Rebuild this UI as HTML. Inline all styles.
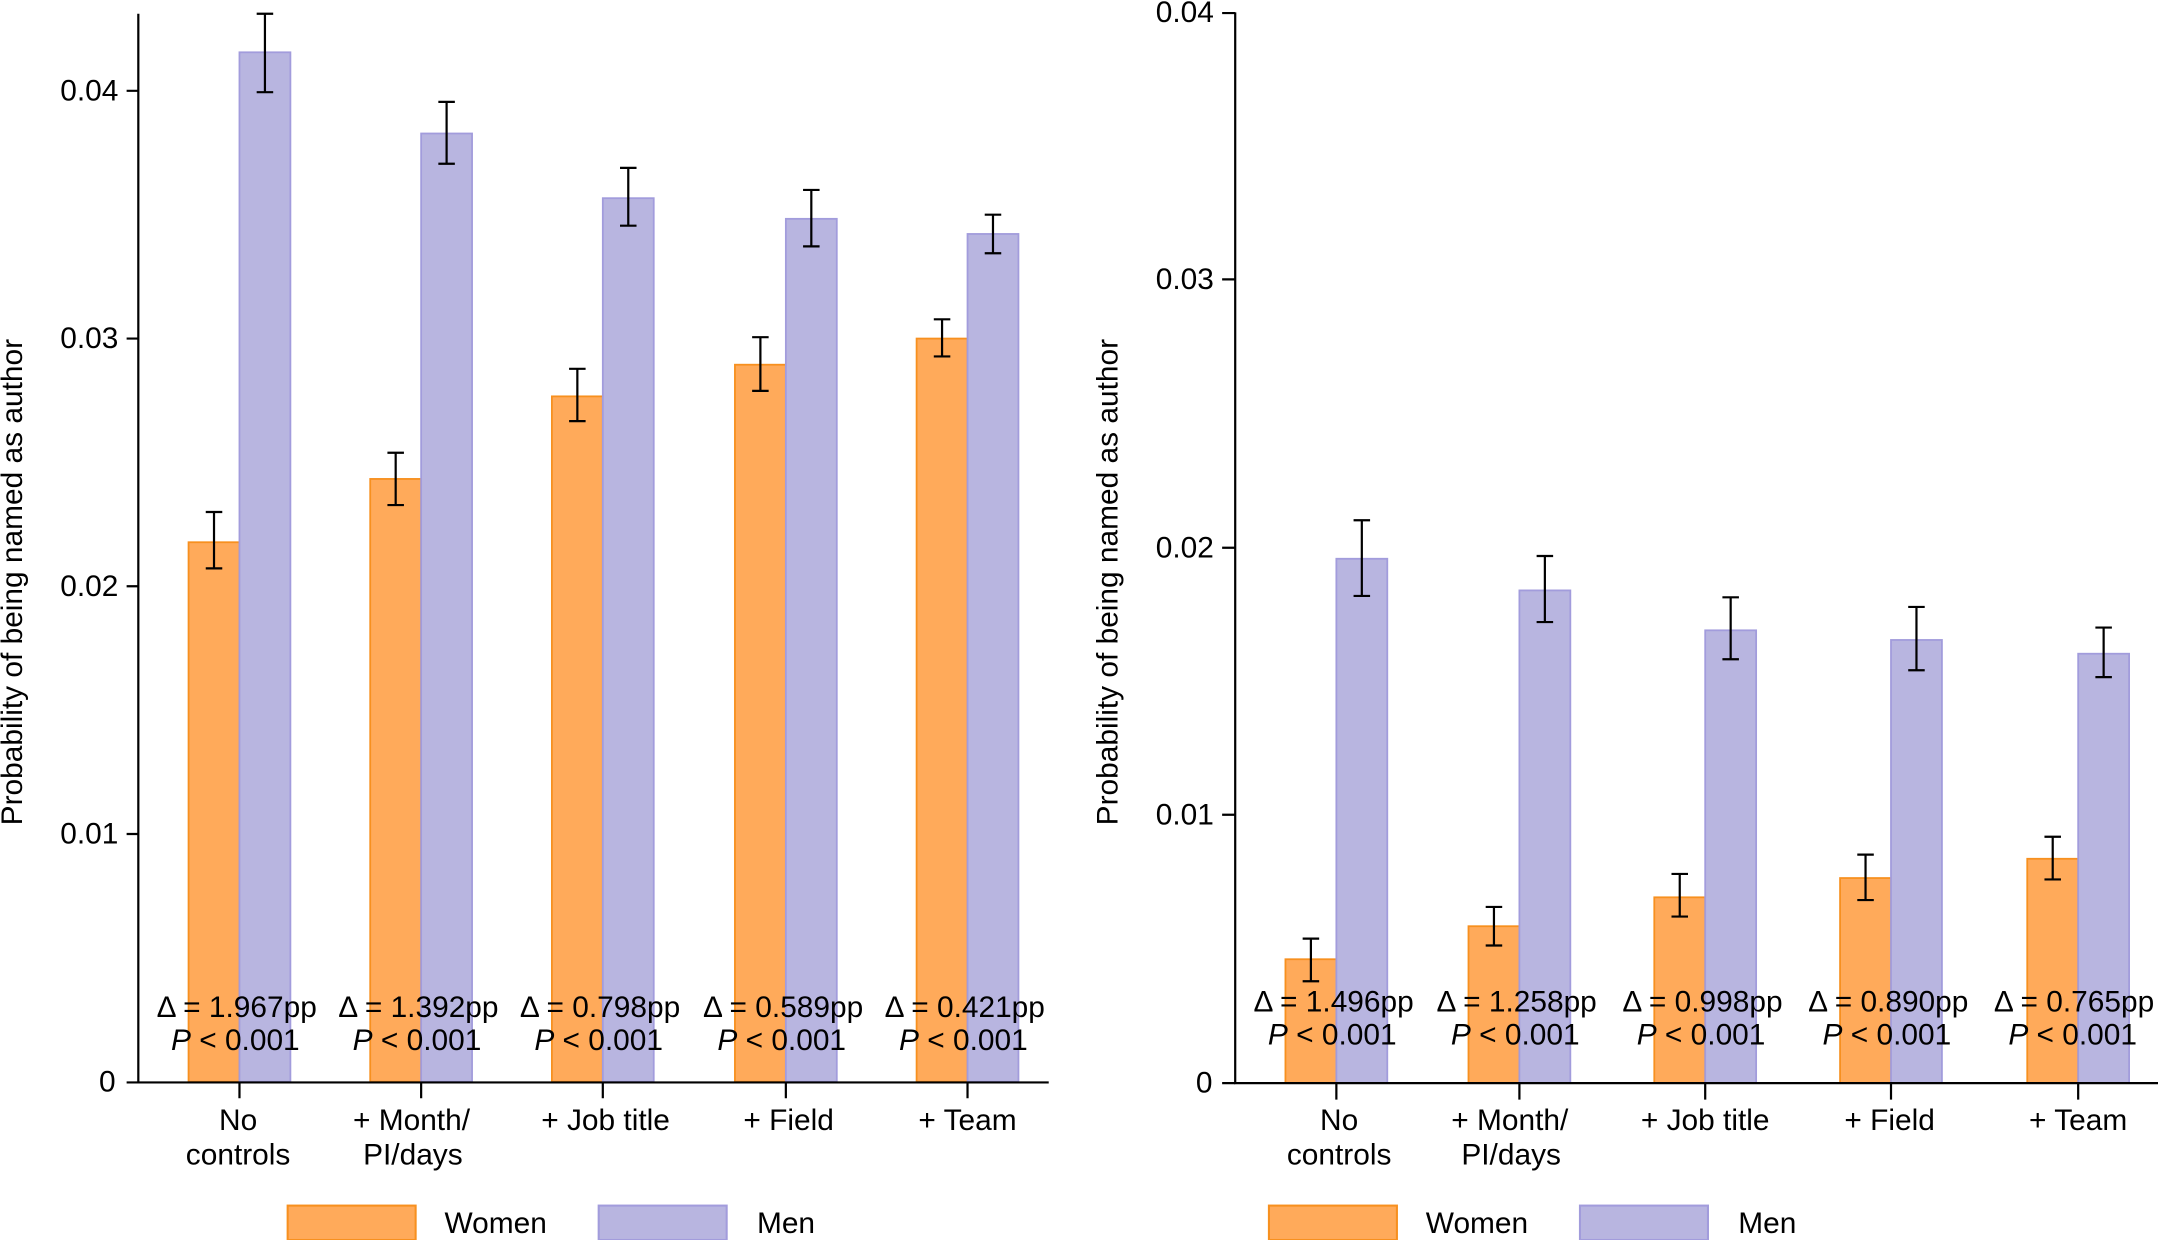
<!DOCTYPE html>
<html><head><meta charset="utf-8"><style>
html,body{margin:0;padding:0;background:#fff;}
svg{display:block;}
text{font-family:"Liberation Sans",Arial,sans-serif;fill:#000;}
</style></head><body>
<svg width="2158" height="1240" viewBox="0 0 1568 901" preserveAspectRatio="none" xmlns="http://www.w3.org/2000/svg">
<g font-size="21.7">
<!-- LEFT CHART -->
<g stroke-width="1.3">
<rect x="137" y="394" width="37" height="392" fill="#FFAA5A" stroke="#F7901F"/>
<rect x="174" y="38" width="37" height="748" fill="#B8B5E0" stroke="#A29CDC"/>
<rect x="269" y="348" width="37" height="438" fill="#FFAA5A" stroke="#F7901F"/>
<rect x="306" y="97" width="37" height="689" fill="#B8B5E0" stroke="#A29CDC"/>
<rect x="401" y="288" width="37" height="498" fill="#FFAA5A" stroke="#F7901F"/>
<rect x="438" y="144" width="37" height="642" fill="#B8B5E0" stroke="#A29CDC"/>
<rect x="534" y="265" width="37" height="521" fill="#FFAA5A" stroke="#F7901F"/>
<rect x="571" y="159" width="37" height="627" fill="#B8B5E0" stroke="#A29CDC"/>
<rect x="666" y="246" width="37" height="540" fill="#FFAA5A" stroke="#F7901F"/>
<rect x="703" y="170" width="37" height="616" fill="#B8B5E0" stroke="#A29CDC"/>
</g>
<g stroke="#000" stroke-width="1.6" fill="none">
<path d="M155.5 372V413M149.5 372H161.5M149.5 413H161.5"/>
<path d="M192.5 10V67M186.5 10H198.5M186.5 67H198.5"/>
<path d="M287.5 329V367M281.5 329H293.5M281.5 367H293.5"/>
<path d="M324.5 74V119M318.5 74H330.5M318.5 119H330.5"/>
<path d="M419.5 268V306M413.5 268H425.5M413.5 306H425.5"/>
<path d="M456.5 122V164M450.5 122H462.5M450.5 164H462.5"/>
<path d="M552.5 245V284M546.5 245H558.5M546.5 284H558.5"/>
<path d="M589.5 138V179M583.5 138H595.5M583.5 179H595.5"/>
<path d="M684.5 232V259M678.5 232H690.5M678.5 259H690.5"/>
<path d="M721.5 156V184M715.5 156H727.5M715.5 184H727.5"/>
<path d="M100.5 10V786.5H762"/>
<path d="M92 66H100.5M92 246H100.5M92 426H100.5M92 606H100.5M92 786.5H100.5"/>
<path d="M174 786V798M306 786V798M438 786V798M571 786V798M703 786V798"/>
</g>
<g text-anchor="end">
<text x="86" y="73">0.04</text><text x="86" y="253">0.03</text><text x="86" y="433">0.02</text><text x="86" y="613">0.01</text><text x="84" y="793">0</text>
</g>
<text transform="translate(16,423) rotate(-90)" text-anchor="middle">Probability of being named as author</text>
<g text-anchor="middle">
<text x="172" y="739">Δ = 1.967pp</text><text x="171" y="763"><tspan font-style="italic">P</tspan> &lt; 0.001</text>
<text x="304" y="739">Δ = 1.392pp</text><text x="303" y="763"><tspan font-style="italic">P</tspan> &lt; 0.001</text>
<text x="436" y="739">Δ = 0.798pp</text><text x="435" y="763"><tspan font-style="italic">P</tspan> &lt; 0.001</text>
<text x="569" y="739">Δ = 0.589pp</text><text x="568" y="763"><tspan font-style="italic">P</tspan> &lt; 0.001</text>
<text x="701" y="739">Δ = 0.421pp</text><text x="700" y="763"><tspan font-style="italic">P</tspan> &lt; 0.001</text>
<text x="173" y="821">No</text><text x="173" y="846">controls</text>
<text x="299" y="821">+ Month/</text><text x="300" y="846">PI/days</text>
<text x="440" y="821">+ Job title</text>
<text x="573" y="821">+ Field</text>
<text x="703" y="821">+ Team</text>
</g>
<rect x="209" y="876" width="93" height="25" fill="#FFAA5A" stroke="#F7901F" stroke-width="1.5"/>
<text x="323" y="896">Women</text>
<rect x="435" y="876" width="93" height="25" fill="#B8B5E0" stroke="#A29CDC" stroke-width="1.5"/>
<text x="550" y="896">Men</text>

<!-- RIGHT CHART -->
<g stroke-width="1.3">
<rect x="934" y="697" width="37" height="90" fill="#FFAA5A" stroke="#F7901F"/>
<rect x="971" y="406" width="37" height="381" fill="#B8B5E0" stroke="#A29CDC"/>
<rect x="1067" y="673" width="37" height="114" fill="#FFAA5A" stroke="#F7901F"/>
<rect x="1104" y="429" width="37" height="358" fill="#B8B5E0" stroke="#A29CDC"/>
<rect x="1202" y="652" width="37" height="135" fill="#FFAA5A" stroke="#F7901F"/>
<rect x="1239" y="458" width="37" height="329" fill="#B8B5E0" stroke="#A29CDC"/>
<rect x="1337" y="638" width="37" height="149" fill="#FFAA5A" stroke="#F7901F"/>
<rect x="1374" y="465" width="37" height="322" fill="#B8B5E0" stroke="#A29CDC"/>
<rect x="1473" y="624" width="37" height="163" fill="#FFAA5A" stroke="#F7901F"/>
<rect x="1510" y="475" width="37" height="312" fill="#B8B5E0" stroke="#A29CDC"/>
</g>
<g stroke="#000" stroke-width="1.6" fill="none">
<path d="M952.5 682V713M946.5 682H958.5M946.5 713H958.5"/>
<path d="M989.5 378V433M983.5 378H995.5M983.5 433H995.5"/>
<path d="M1085.5 659V687M1079.5 659H1091.5M1079.5 687H1091.5"/>
<path d="M1122.5 404V452M1116.5 404H1128.5M1116.5 452H1128.5"/>
<path d="M1220.5 635V666M1214.5 635H1226.5M1214.5 666H1226.5"/>
<path d="M1257.5 434V479M1251.5 434H1263.5M1251.5 479H1263.5"/>
<path d="M1355.5 621V654M1349.5 621H1361.5M1349.5 654H1361.5"/>
<path d="M1392.5 441V487M1386.5 441H1398.5M1386.5 487H1398.5"/>
<path d="M1491.5 608V639M1485.5 608H1497.5M1485.5 639H1497.5"/>
<path d="M1528.5 456V492M1522.5 456H1534.5M1522.5 492H1534.5"/>
<path d="M897.5 9V787H1568"/>
<path d="M888 9.5H897.5M888 203H897.5M888 398H897.5M888 592H897.5M888 787H897.5"/>
<path d="M971 787V799M1104 787V799M1239 787V799M1374 787V799M1510 787V799"/>
</g>
<g text-anchor="end">
<text x="882" y="16">0.04</text><text x="882" y="210">0.03</text><text x="882" y="405">0.02</text><text x="882" y="599">0.01</text><text x="881" y="794">0</text>
</g>
<text transform="translate(812,423) rotate(-90)" text-anchor="middle">Probability of being named as author</text>
<g text-anchor="middle">
<text x="969" y="735">Δ = 1.496pp</text><text x="968" y="759"><tspan font-style="italic">P</tspan> &lt; 0.001</text>
<text x="1102" y="735">Δ = 1.258pp</text><text x="1101" y="759"><tspan font-style="italic">P</tspan> &lt; 0.001</text>
<text x="1237" y="735">Δ = 0.998pp</text><text x="1236" y="759"><tspan font-style="italic">P</tspan> &lt; 0.001</text>
<text x="1372" y="735">Δ = 0.890pp</text><text x="1371" y="759"><tspan font-style="italic">P</tspan> &lt; 0.001</text>
<text x="1507" y="735">Δ = 0.765pp</text><text x="1506" y="759"><tspan font-style="italic">P</tspan> &lt; 0.001</text>
<text x="973" y="821">No</text><text x="973" y="846">controls</text>
<text x="1097" y="821">+ Month/</text><text x="1098" y="846">PI/days</text>
<text x="1239" y="821">+ Job title</text>
<text x="1373" y="821">+ Field</text>
<text x="1510" y="821">+ Team</text>
</g>
<rect x="922" y="876" width="93" height="25" fill="#FFAA5A" stroke="#F7901F" stroke-width="1.5"/>
<text x="1036" y="896">Women</text>
<rect x="1148" y="876" width="93" height="25" fill="#B8B5E0" stroke="#A29CDC" stroke-width="1.5"/>
<text x="1263" y="896">Men</text>
</g>
</svg>
</body></html>
